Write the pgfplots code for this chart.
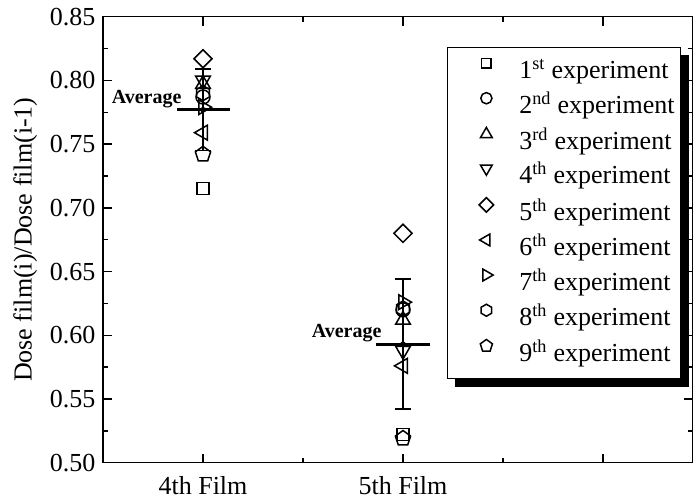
\documentclass[border=0pt]{standalone}
\usepackage{fontspec}
\setmainfont{Liberation Serif}
\usepackage{pgfplots}
\pgfplotsset{compat=1.18}
\usetikzlibrary{plotmarks}

\pgfdeclarelayer{shadow}
\pgfsetlayers{shadow,main}

\newcommand\lbl{\fontsize{26}{30}\selectfont}

\pgfdeclareplotmark{hexagon}{%
  \pgfpathmoveto{\pgfpointpolar{90}{\pgfplotmarksize}}%
  \pgfpathlineto{\pgfpointpolar{150}{\pgfplotmarksize}}%
  \pgfpathlineto{\pgfpointpolar{210}{\pgfplotmarksize}}%
  \pgfpathlineto{\pgfpointpolar{270}{\pgfplotmarksize}}%
  \pgfpathlineto{\pgfpointpolar{330}{\pgfplotmarksize}}%
  \pgfpathlineto{\pgfpointpolar{30}{\pgfplotmarksize}}%
  \pgfpathclose
  \pgfusepathqstroke
}

\begin{document}
\begin{tikzpicture}
\begin{axis}[
    scale only axis,
    width=590pt, height=446pt,
    xmin=0.5, xmax=3.45,
    ymin=0.5, ymax=0.85,
    xtick={1,2,3},
    xticklabels={4th Film,5th Film,{}},
    minor xtick={1.5,2.5},
    ytick={0.50,0.55,0.60,0.65,0.70,0.75,0.80,0.85},
    minor ytick={0.525,0.575,0.625,0.675,0.725,0.775,0.825},
    yticklabel style={xshift=-4pt, /pgf/number format/.cd, fixed, fixed zerofill, precision=2},
    xticklabel style={yshift=-10pt},
    /pgf/number format/assume math mode=true,
    tick align=inside,
    major tick length=9pt, minor tick length=5pt,
    tick style={black, line width=1.5pt},
    axis line style={line width=1.5pt},
    ticklabel style={font=\lbl},
    label style={font=\lbl},
    ylabel={Dose film(i)/Dose film(i-1)},
    ylabel shift=6pt,
    every axis plot/.append style={black, line width=1.5pt},
    legend image code/.code={%
        \draw[#1, every mark/.append style={scale=0.8}] plot coordinates {(0pt,9pt)};
        \path[draw=none, fill=none] (-33pt,0pt) rectangle (15pt,14pt);
    },
    legend cell align=left,
    legend style={
        name=leg,
        at={(rel axis cs:0.583,0.932)}, anchor=north west,
        draw=black, line width=0.8pt, fill=white,
        inner xsep=6pt, inner ysep=11pt,
        font=\lbl, row sep=7.7pt, column sep=18pt,
        nodes={inner sep=0pt, text height=19pt, text depth=6pt},
    },
]
% error bars and averages
\addplot[only marks, mark=none, forget plot,
    error bars/.cd, y dir=both, y explicit,
    error bar style={line width=1.5pt, solid},
    error mark options={rotate=90, mark size=8pt, line width=1.5pt}]
    coordinates {(1,0.777) +- (0,0.032) (2,0.593) +- (0,0.051)};
\addplot[line width=3pt, forget plot] coordinates {(0.87,0.777) (1.135,0.777)};
\addplot[line width=3pt, forget plot] coordinates {(1.865,0.593) (2.135,0.593)};

\addplot[only marks, mark=square, mark size=6pt] coordinates {(1,0.715) (2,0.522)};
\addplot[only marks, mark=o, mark size=7pt] coordinates {(1,0.787) (2,0.620)};
\addplot[only marks, mark=triangle, mark size=8.5pt] coordinates {(1,0.797) (2,0.612)};
\addplot[only marks, mark=triangle, mark size=8.5pt, mark options={rotate=180}] coordinates {(1,0.800) (2,0.588)};
\addplot[only marks, mark=square, mark size=6.4pt, mark options={rotate=45}] coordinates {(1,0.817) (2,0.680)};
\addplot[only marks, mark=triangle, mark size=8.5pt, mark options={rotate=90}] coordinates {(1,0.759) (2,0.576)};
\addplot[only marks, mark=triangle, mark size=8.5pt, mark options={rotate=-90}] coordinates {(1,0.779) (2,0.626)};
\addplot[only marks, mark=hexagon, mark size=7.5pt] coordinates {(1,0.790) (2,0.621)};
\addplot[only marks, mark=pentagon, mark size=8pt] coordinates {(1,0.742) (2,0.519)};

\legend{1\textsuperscript{st} experiment,
        2\textsuperscript{nd} experiment,
        3\textsuperscript{rd} experiment,
        4\textsuperscript{th} experiment,
        5\textsuperscript{th} experiment,
        6\textsuperscript{th} experiment,
        7\textsuperscript{th} experiment,
        8\textsuperscript{th} experiment,
        9\textsuperscript{th} experiment}

\node[font=\bfseries\fontsize{20}{20}\selectfont, anchor=base east] at (axis cs:0.91,0.7815) {Average};
\node[font=\bfseries\fontsize{20}{20}\selectfont, anchor=base east] at (axis cs:1.91,0.598) {Average};
\end{axis}
\begin{pgfonlayer}{shadow}
\fill[black] ([shift={(8pt,-8pt)}]leg.south west) rectangle ([shift={(8pt,-8pt)}]leg.north east);
\end{pgfonlayer}
\pgfresetboundingbox
\path (-103pt,-36.3pt) rectangle (590pt,462.7pt);
\end{tikzpicture}
\end{document}
